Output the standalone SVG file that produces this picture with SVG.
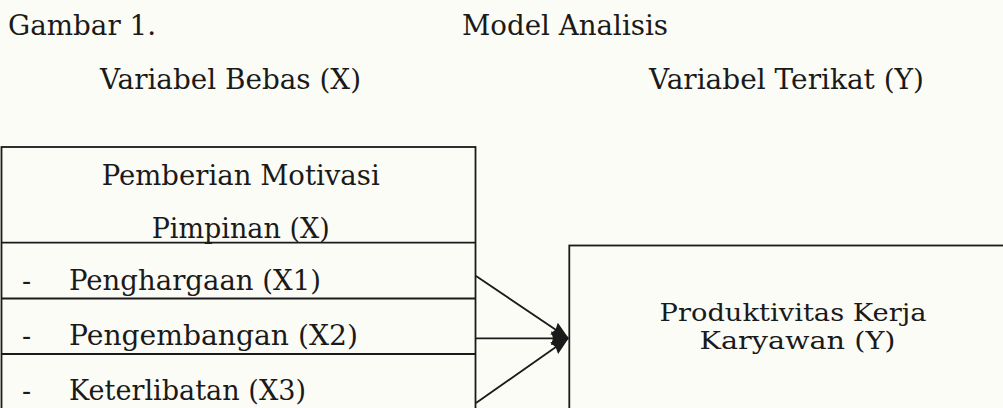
<svg xmlns="http://www.w3.org/2000/svg" width="1003" height="408" viewBox="0 0 1003 408">
<defs>
<style>
text{font-family:"DejaVu Serif","Liberation Serif",serif;fill:#1a1a1a;font-size:27px}
.ylab{font-size:24px}
.box{fill:none;stroke:#1a1a1a;stroke-width:1.8}
.ln{stroke:#1a1a1a;stroke-width:1.8}
.conn{stroke:#1a1a1a;stroke-width:1.8;fill:none;marker-end:url(#ah)}
</style>
<marker id="ah" viewBox="0 0 18 14" refX="17" refY="7" markerWidth="18" markerHeight="14" markerUnits="userSpaceOnUse" orient="auto">
<path d="M0,0 L18,7 L0,14 L2,7 z" fill="#1a1a1a"/>
</marker>
</defs>
<rect width="1003" height="408" fill="#fcfcf7"/>
<g id="titles">
<text x="8" y="35" textLength="148" lengthAdjust="spacingAndGlyphs">Gambar 1.</text>
<text x="462" y="35" textLength="206" lengthAdjust="spacingAndGlyphs">Model Analisis</text>
<text x="100" y="88.5" textLength="261" lengthAdjust="spacingAndGlyphs">Variabel Bebas (X)</text>
<text x="649" y="89" textLength="275" lengthAdjust="spacingAndGlyphs">Variabel Terikat (Y)</text>
</g>
<g id="node-x">
<rect class="box" x="1.5" y="147" width="474" height="280"/>
<line class="ln" x1="1.5" y1="242.7" x2="475.5" y2="242.7"/>
<line class="ln" x1="1.5" y1="298.5" x2="475.5" y2="298.5"/>
<line class="ln" x1="1.5" y1="354" x2="475.5" y2="354"/>
<text x="101.7" y="185" textLength="278" lengthAdjust="spacingAndGlyphs">Pemberian Motivasi</text>
<text x="151.7" y="238" textLength="178" lengthAdjust="spacingAndGlyphs">Pimpinan (X)</text>
<text x="22" y="290">-</text>
<text x="69" y="290" textLength="252" lengthAdjust="spacingAndGlyphs">Penghargaan (X1)</text>
<text x="22" y="345">-</text>
<text x="69" y="345" textLength="289" lengthAdjust="spacingAndGlyphs">Pengembangan (X2)</text>
<text x="22" y="400">-</text>
<text x="69" y="400" textLength="237" lengthAdjust="spacingAndGlyphs">Keterlibatan (X3)</text>
</g>
<g id="node-y">
<rect class="box" x="569.3" y="245.5" width="460" height="200"/>
<text class="ylab" x="659.5" y="320.5" textLength="267" lengthAdjust="spacingAndGlyphs">Produktivitas Kerja</text>
<text class="ylab" x="699.5" y="349" textLength="196" lengthAdjust="spacingAndGlyphs">Karyawan (Y)</text>
</g>
<g id="connectors">
<line class="conn" x1="476" y1="276" x2="568" y2="338"/>
<line class="conn" x1="476" y1="338.3" x2="568" y2="338.3"/>
<line class="conn" x1="476" y1="403" x2="568" y2="338.6"/>
</g>
</svg>
